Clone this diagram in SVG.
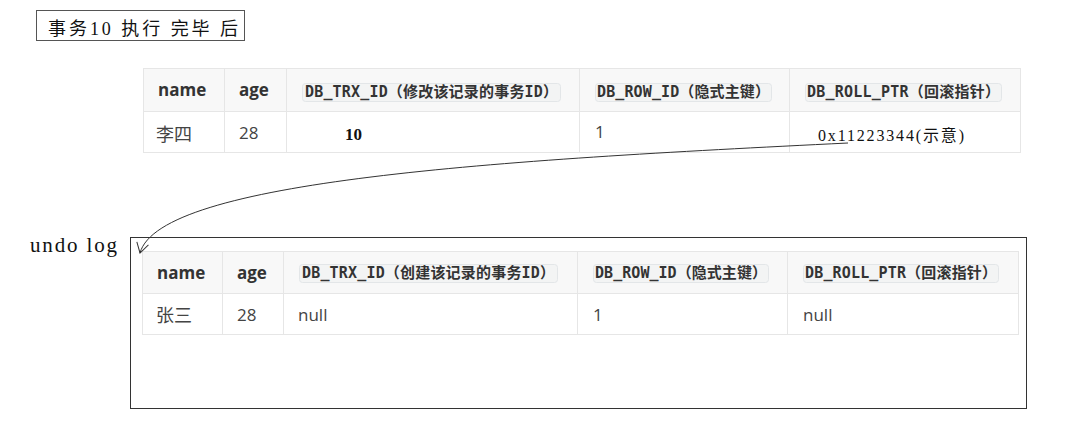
<svg xmlns="http://www.w3.org/2000/svg" width="1092" height="421" viewBox="0 0 1092 421">
<style>
.bg{fill:#ffffff}
.frame{fill:none;stroke:#333;stroke-width:1}
.tbl{fill:#fff;stroke:#e6e6e6;stroke-width:1}
.hdr{fill:#f8f8f8}
.grid{stroke:#e6e6e6;stroke-width:1}
.th{font-family:"Open Sans","Noto Sans",sans-serif;font-weight:bold;font-size:17px;fill:#333}
.td{font-family:"Open Sans","Noto Sans","Noto Sans CJK SC",sans-serif;font-size:17px;fill:#444}
.cjk{font-family:"Noto Sans CJK SC",sans-serif;font-size:18px;fill:#444}
.codebox{fill:#f3f4f4;stroke:#e3e6e8;stroke-width:1}
.code{font-family:"DejaVu Sans Mono","Noto Sans CJK SC",monospace;font-weight:bold;font-size:15px;fill:#333}
.serif{font-family:"Liberation Serif","Noto Sans CJK SC",serif;fill:#111}
.conn{fill:none;stroke:#333;stroke-width:1}
</style>
<defs>
<marker id="arr" viewBox="0 0 12 14" refX="11" refY="7" markerWidth="12" markerHeight="14" markerUnits="userSpaceOnUse" orient="auto">
<path d="M1,1 L11,7 L1,13" fill="none" stroke="#333" stroke-width="1"/>
</marker>
</defs>
<rect class="bg" x="0" y="0" width="1092" height="421"/>

<g id="title">
<rect x="36.5" y="10.5" width="208" height="30" fill="#fff" stroke="#555" stroke-width="1"/>
<text class="serif" x="48" y="35" font-size="18" textLength="190" xml:space="preserve">事务10 执行 完毕 后</text>
</g>

<g id="current-record">
<rect class="tbl" x="143.5" y="68.5" width="877" height="84"/>
<rect class="hdr" x="144" y="69" width="876" height="42"/>
<line class="grid" x1="143.5" y1="111.5" x2="1020.5" y2="111.5"/>
<line class="grid" x1="224.5" y1="68.5" x2="224.5" y2="152.5"/>
<line class="grid" x1="286.5" y1="68.5" x2="286.5" y2="152.5"/>
<line class="grid" x1="579.5" y1="68.5" x2="579.5" y2="152.5"/>
<line class="grid" x1="789.5" y1="68.5" x2="789.5" y2="152.5"/>
<text class="th" x="158" y="96">name</text>
<text class="th" x="239" y="96">age</text>
<rect class="codebox" x="302.5" y="83.5" width="258" height="18" rx="3"/>
<text class="code" x="305" y="97" textLength="253">DB_TRX_ID（修改该记录的事务ID）</text>
<rect class="codebox" x="595.5" y="83.5" width="176" height="18" rx="3"/>
<text class="code" x="597" y="97" textLength="173">DB_ROW_ID（隐式主键）</text>
<rect class="codebox" x="805.5" y="83.5" width="196" height="18" rx="3"/>
<text class="code" x="807" y="97" textLength="193">DB_ROLL_PTR（回滚指针）</text>
<text class="cjk" x="156" y="141">李四</text>
<text class="td" x="239" y="139">28</text>
<text class="serif" x="345" y="140" font-size="17" font-weight="bold">10</text>
<text class="td" x="595" y="138">1</text>
<text class="serif" x="818" y="141" font-size="16" textLength="146">0x11223344(示意)</text>
</g>

<g id="undo-log">
<text class="serif" x="30" y="252" font-size="21" textLength="87" xml:space="preserve">undo log</text>
<rect class="frame" x="130.5" y="237.5" width="896" height="171"/>
<rect class="tbl" x="142.5" y="251.5" width="876" height="83"/>
<rect class="hdr" x="143" y="252" width="875" height="41"/>
<line class="grid" x1="142.5" y1="293.5" x2="1018.5" y2="293.5"/>
<line class="grid" x1="222.5" y1="251.5" x2="222.5" y2="334.5"/>
<line class="grid" x1="283.5" y1="251.5" x2="283.5" y2="334.5"/>
<line class="grid" x1="577.5" y1="251.5" x2="577.5" y2="334.5"/>
<line class="grid" x1="787.5" y1="251.5" x2="787.5" y2="334.5"/>
<text class="th" x="157" y="279">name</text>
<text class="th" x="237" y="279">age</text>
<rect class="codebox" x="299.5" y="264.5" width="258" height="18" rx="3"/>
<text class="code" x="302" y="278" textLength="253">DB_TRX_ID（创建该记录的事务ID）</text>
<rect class="codebox" x="593.5" y="264.5" width="175" height="18" rx="3"/>
<text class="code" x="595" y="278" textLength="172">DB_ROW_ID（隐式主键）</text>
<rect class="codebox" x="803.5" y="264.5" width="195" height="18" rx="3"/>
<text class="code" x="805" y="278" textLength="192">DB_ROLL_PTR（回滚指针）</text>
<text class="cjk" x="156" y="322">张三</text>
<text class="td" x="237" y="321">28</text>
<text class="td" x="298" y="321">null</text>
<text class="td" x="593" y="321">1</text>
<text class="td" x="803" y="321">null</text>
</g>

<g id="connectors">
<path class="conn" d="M848,143 C500,160 160,180 140,253" marker-end="url(#arr)"/>
</g>
</svg>
